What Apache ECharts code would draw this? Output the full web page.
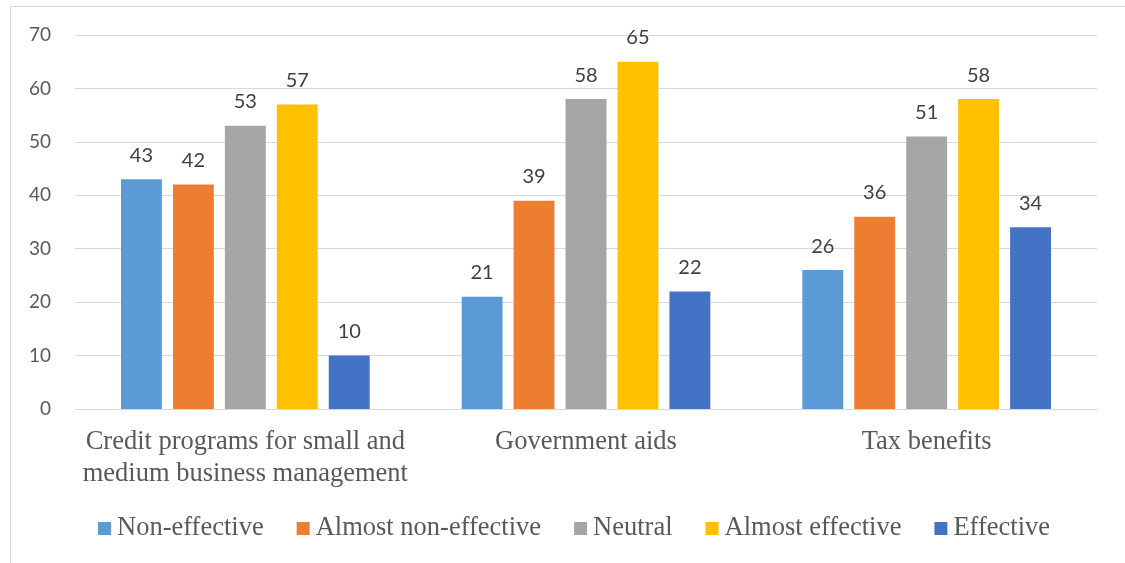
<!DOCTYPE html>
<html>
<head>
<meta charset="utf-8">
<script src="https://cdn.jsdelivr.net/npm/echarts@6/dist/echarts.min.js"></script>
<style>
  html, body { margin: 0; padding: 0; background: #ffffff; }
  #chart { width: 1125px; height: 563px; }
</style>
</head>
<body>
<div id="chart"></div>
<script>
// Categories of support programs and responses per effectiveness level
const categories = [
  'Credit programs for small and\nmedium business management',
  'Government aids',
  'Tax benefits'
];
const seriesNames = ['Non-effective', 'Almost non-effective', 'Neutral', 'Almost effective', 'Effective'];
const nonEffective = [43, 21, 26];
const almostNonEffective = [42, 39, 36];
const neutral = [53, 58, 51];
const almostEffective = [57, 65, 58];
const effective = [10, 22, 34];
const yTicks = [0, 10, 20, 30, 40, 50, 60, 70];

const seriesValues = [nonEffective, almostNonEffective, neutral, almostEffective, effective];
const colors = ['#5B9BD5', '#ED7D31', '#A5A5A5', '#FFC000', '#4472C4'];

const chart = echarts.init(document.getElementById('chart'));
chart.setOption({
  animation: false,
  backgroundColor: '#ffffff',
  color: colors,
  graphic: [{
    type: 'rect',
    shape: { x: 10.5, y: 6.5, width: 1200, height: 700 },
    style: { fill: 'none', stroke: '#d9d9d9', lineWidth: 1 },
    silent: true,
    z: -1
  }],
  grid: { left: 75, right: 28, top: 35, bottom: 154, containLabel: false },
  legend: {
    data: seriesNames,
    top: 510,
    left: 93,
    itemWidth: 13,
    itemHeight: 13,
    itemGap: 33,
    icon: 'rect',
    textStyle: { fontFamily: 'Liberation Serif', fontSize: 26.5, color: '#595959', padding: [0, 0, 0, 1] }
  },
  xAxis: {
    type: 'category',
    data: categories,
    axisLine: { lineStyle: { color: '#d9d9d9', width: 1 } },
    axisTick: { show: false },
    axisLabel: {
      margin: 17,
      fontFamily: 'Liberation Serif',
      fontSize: 26.5,
      color: '#595959',
      lineHeight: 32,
      interval: 0
    }
  },
  yAxis: {
    type: 'value',
    min: yTicks[0],
    max: yTicks[yTicks.length - 1],
    interval: 10,
    axisLine: { show: false },
    axisTick: { show: false },
    splitLine: { lineStyle: { color: '#d9d9d9', width: 1 } },
    axisLabel: {
      margin: 24,
      fontFamily: 'Lato',
      fontSize: 19,
      color: '#595959'
    }
  },
  series: seriesNames.map((name, i) => ({
    name: name,
    type: 'bar',
    data: seriesValues[i],
    barGap: '27%',
    barCategoryGap: '27%',
    itemStyle: { color: colors[i] },
    label: {
      show: true,
      position: 'top',
      distance: 14,
      fontFamily: 'Lato',
      fontSize: 20,
      color: '#404040'
    }
  }))
});
</script>
</body>
</html>
